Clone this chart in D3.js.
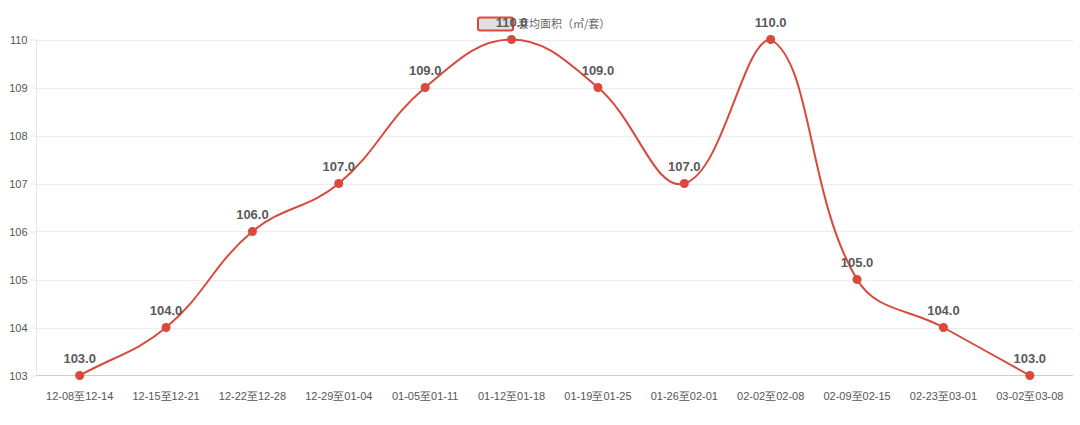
<!DOCTYPE html>
<html><head><meta charset="utf-8">
<script src="https://cdn.jsdelivr.net/npm/d3@7"></script>
<style>body{margin:0;background:#fff}svg{display:block;font-family:"Liberation Sans",Arial,sans-serif}</style>
</head><body><svg id="c" width="1080" height="425"></svg>
<script>
const categories = ["12-08至12-14","12-15至12-21","12-22至12-28","12-29至01-04","01-05至01-11","01-12至01-18","01-19至01-25","01-26至02-01","02-02至02-08","02-09至02-15","02-23至03-01","03-02至03-08"];
const values = [103,104,106,107,109,110,109,107,110,105,104,103];
const yTicks = [103,104,105,106,107,108,109,110];
const seriesName = "套均面积（㎡/套）";

const svg = d3.select("#c");
const mLeft = 36.5, mRight = 1073, mTop = 39.5, mBottom = 375.5;
const x = d3.scaleBand().domain(categories).range([mLeft, mRight]);
const y = d3.scaleLinear().domain([103,110]).range([mBottom, mTop]);
const color = "#d9493c";

// grid
svg.append("g").selectAll("line").data(yTicks.filter(t=>t!==103)).join("line")
  .attr("x1", mLeft).attr("x2", mRight).attr("y1", d=>Math.round(y(d))+0.5).attr("y2", d=>Math.round(y(d))+0.5)
  .attr("stroke", "#ececec");
// y axis
const ya = svg.append("g").attr("transform", `translate(${mLeft},0)`)
  .call(d3.axisLeft(y).tickValues(yTicks).tickSize(6).tickPadding(3).tickFormat(d3.format("d")));
ya.select(".domain").attr("stroke", "#e6e6e6").attr("d", `M0,${mTop}V${mBottom}`);
ya.selectAll(".tick line").attr("stroke", "#e6e6e6");
ya.selectAll(".tick text").attr("fill", "#555").attr("font-size", 11).attr("font-family", "Liberation Sans, Arial, sans-serif");
// x axis
const xa = svg.append("g").attr("transform", `translate(0,${mBottom})`)
  .call(d3.axisBottom(x).tickSize(0).tickPadding(17));
xa.select(".domain").attr("stroke", "#cccccc").attr("d", `M${mLeft},0H${mRight}`);
xa.selectAll(".tick text").attr("fill", "#555").attr("font-size", 11).attr("font-family", "Liberation Sans, Arial, sans-serif");

// smooth line (spline with tension, control points capped to plot area)
const pts = values.map((v,i)=>[x(categories[i]) + x.bandwidth()/2, y(v)]);
function smoothPath(points, t){
  const n = points.length;
  const cap = c => [Math.max(mLeft, Math.min(mRight, c[0])), Math.max(mTop, Math.min(mBottom, c[1]))];
  const cps = points.map((cur, i) => {
    const prev = i > 0 ? points[i-1] : cur;
    const next = i < n-1 ? points[i+1] : cur;
    const d01 = Math.hypot(cur[0]-prev[0], cur[1]-prev[1]);
    const d12 = Math.hypot(next[0]-cur[0], next[1]-cur[1]);
    let s01 = d01/(d01+d12), s12 = d12/(d01+d12);
    if (isNaN(s01)) s01 = 0; if (isNaN(s12)) s12 = 0;
    const fa = t*s01, fb = t*s12;
    return [
      cap([cur[0]-fa*(next[0]-prev[0]), cur[1]-fa*(next[1]-prev[1])]),
      cap([cur[0]+fb*(next[0]-prev[0]), cur[1]+fb*(next[1]-prev[1])])
    ];
  });
  const path = d3.path();
  path.moveTo(points[0][0], points[0][1]);
  for (let i=1;i<n;i++){
    const a = cps[i-1][1], b = cps[i][0];
    path.bezierCurveTo(a[0], a[1], b[0], b[1], points[i][0], points[i][1]);
  }
  return path.toString();
}
svg.append("path").attr("d", smoothPath(pts, 0.4)).attr("fill","none").attr("stroke", color).attr("stroke-width", 2);
svg.append("g").selectAll("circle").data(values).join("circle")
  .attr("cx", (d,i)=>x(categories[i])+x.bandwidth()/2).attr("cy", d=>y(d)).attr("r", 4.5).attr("fill", color);

// legend
const lg = svg.append("g");
lg.append("rect").attr("x", 478).attr("y", 17.5).attr("width", 35).attr("height", 13).attr("rx", 2)
  .attr("fill", "#e0e0e0").attr("stroke", color).attr("stroke-width", 2);
lg.append("text").attr("x", 518).attr("y", 28).attr("font-size", 11).attr("fill", "#666")
  .attr("font-family", "'Noto Sans CJK SC', sans-serif").text(seriesName);

svg.append("g").selectAll("text").data(values).join("text")
  .attr("x", (d,i)=>x(categories[i])+x.bandwidth()/2).attr("y", d=>y(d)-13)
  .attr("text-anchor","middle").attr("font-size", 13).attr("font-weight","bold").attr("fill","#5a5a5a")
  .text(d=>d3.format(".1f")(d));
</script></body></html>
